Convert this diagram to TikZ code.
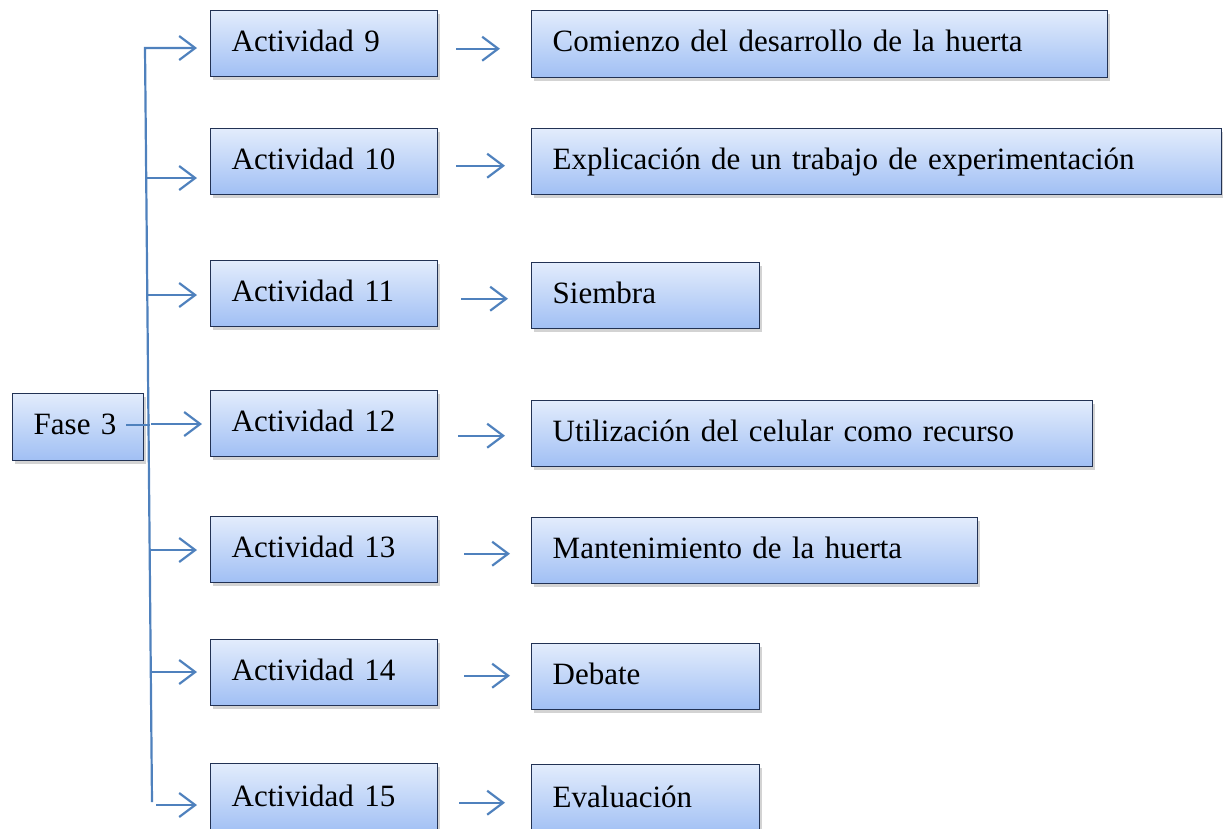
\documentclass[tikz,border=0pt]{standalone}
\usepackage{fontspec}
\setmainfont{Liberation Serif}
\usetikzlibrary{arrows.meta,calc,shadows}
\definecolor{lineblue}{RGB}{79,129,189}
\definecolor{boxtop}{RGB}{226,236,252}
\definecolor{boxbot}{RGB}{160,191,244}
\definecolor{boxedge}{RGB}{34,50,84}
\tikzset{
  box/.style={draw=boxedge, line width=1.4pt, top color=boxtop, bottom color=boxbot,
    anchor=north west, inner xsep=21pt, inner ysep=0pt, align=left,
    font=\fontsize{31}{35}\selectfont,
    drop shadow={opacity=0.35, shadow xshift=2pt, shadow yshift=-3pt}},
  conn/.style={draw=lineblue, line width=2.2pt},
  arr/.style={conn, -{Straight Barb[length=16pt,width=24pt,line width=2.2pt]}}
}
\newcommand{\bx}[6]{% name, x, y, w, h, text
  \node[box, minimum width=#4pt, minimum height=#5pt, text width=#4pt-42pt] (#1) at (#2,#3) {\raisebox{6pt}{#6}};}
\begin{document}
\begin{tikzpicture}[x=1pt,y=-1pt]
\useasboundingbox (0,0) rectangle (1223,828);
% left column
\bx{f}{12}{393}{131}{67}{Fase 3}
\bx{a9}{210}{10}{227}{66}{Actividad 9}
\bx{a10}{210}{128}{227}{66}{Actividad 10}
\bx{a11}{210}{260}{227}{66}{Actividad 11}
\bx{a12}{210}{390}{227}{66}{Actividad 12}
\bx{a13}{210}{516}{227}{66}{Actividad 13}
\bx{a14}{210}{639}{227}{66}{Actividad 14}
\bx{a15}{210}{763}{227}{70}{Actividad 15}
% right column
\bx{c9}{531}{10}{576}{67}{Comienzo del desarrollo de la huerta}
\bx{c10}{531}{128}{690}{66}{Explicación de un trabajo de experimentación}
\bx{c11}{531}{262}{228}{66}{Siembra}
\bx{c12}{531}{400}{561}{66}{Utilización del celular como recurso}
\bx{c13}{531}{517}{446}{66}{Mantenimiento de la huerta}
\bx{c14}{531}{643}{228}{66}{Debate}
\bx{c15}{531}{764}{228}{70}{Evaluación}
% vertical trunk
\coordinate (vbot) at (152,802);
\coordinate (l9) at (145,48);
\coordinate (l10) at (146.2,178);
\coordinate (l11) at (147.3,295);
\coordinate (l12) at (151,424);
\coordinate (l13) at (149.7,550);
\coordinate (l14) at (150.8,672);
\coordinate (l15) at (156,805);
\draw[arr] (vbot) -- (l9) -- ($(l9 -| a9.west)+(-13,0)$);
\draw[arr] (l10) -- ($(l10 -| a10.west)+(-13,0)$);
\draw[arr] (l11) -- ($(l11 -| a11.west)+(-13,0)$);
\draw[arr] (l12) -- ($(l12 -| a12.west)+(-8,0)$);
\draw[arr] (l13) -- ($(l13 -| a13.west)+(-13,0)$);
\draw[arr] (l14) -- ($(l14 -| a14.west)+(-13,0)$);
\draw[arr] (l15) -- ($(l15 -| a15.west)+(-13,0)$);
\draw[conn] ($(f.east)+(-18,-2)$) -- ++(24,0);
% right arrows
\draw[arr] ($(a9.east)+(18,5)$) -- ($(c9.west |- a9.east)+(-31,5)$);
\draw[arr] ($(a10.east)+(18,4)$) -- ($(c10.west |- a10.east)+(-26,4)$);
\draw[arr] ($(a11.east)+(23,5)$) -- ($(c11.west |- a11.east)+(-23,5)$);
\draw[arr] ($(a12.east)+(20,12)$) -- ($(c12.west |- a12.east)+(-26,12)$);
\draw[arr] ($(a13.east)+(26,4)$) -- ($(c13.west |- a13.east)+(-21,4)$);
\draw[arr] ($(a14.east)+(26,3)$) -- ($(c14.west |- a14.east)+(-21,3)$);
\draw[arr] ($(a15.east)+(21,4)$) -- ($(c15.west |- a15.east)+(-26,4)$);
\end{tikzpicture}
\end{document}
